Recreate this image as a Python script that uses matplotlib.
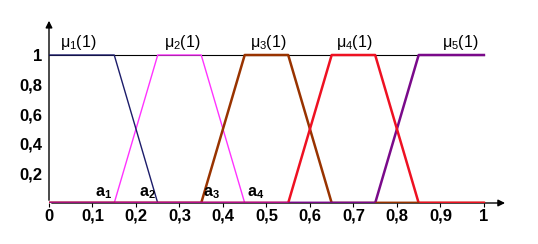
import matplotlib.pyplot as plt

# membership functions mu_1..mu_5 (x breakpoints, y values)
mu1_x = [0, 0.15, 0.25, 1]
mu1_y = [1, 1, 0, 0]
mu2_x = [0, 0.15, 0.25, 0.35, 0.45, 1]
mu2_y = [0, 0, 1, 1, 0, 0]
mu3_x = [0, 0.35, 0.45, 0.55, 0.65, 1]
mu3_y = [0, 0, 1, 1, 0, 0]
mu4_x = [0, 0.55, 0.65, 0.75, 0.85, 1]
mu4_y = [0, 0, 1, 1, 0, 0]
mu5_x = [0, 0.75, 0.85, 1]
mu5_y = [0, 0, 1, 1]

mu_labels = ["$\\mu_1(1)$", "$\\mu_2(1)$", "$\\mu_3(1)$", "$\\mu_4(1)$", "$\\mu_5(1)$"]
mu_label_x = [0.067, 0.306, 0.503, 0.703, 0.945]

a_labels = ["$\\mathbf{a_1}$", "$\\mathbf{a_2}$", "$\\mathbf{a_3}$", "$\\mathbf{a_4}$"]
a_x = [0.15, 0.25, 0.35, 0.45]

xticks = [0, 0.1, 0.2, 0.3, 0.4, 0.5, 0.6, 0.7, 0.8, 0.9, 1]
xticklabels = ["0", "0,1", "0,2", "0,3", "0,4", "0,5", "0,6", "0,7", "0,8", "0,9", "1"]
yticks = [0.2, 0.4, 0.6, 0.8, 1]
yticklabels = ["0,2", "0,4", "0,6", "0,8", "1"]

plt.rcParams["font.family"] = ["Liberation Sans", "DejaVu Sans"]
plt.rcParams["mathtext.fontset"] = "custom"
plt.rcParams["mathtext.rm"] = "Liberation Sans"
plt.rcParams["mathtext.it"] = "Liberation Sans"
plt.rcParams["mathtext.bf"] = "Liberation Sans:bold"

fig = plt.figure(figsize=(5.38, 2.44), dpi=100)
ax = fig.add_axes([49 / 538, 41 / 244, 461 / 538, 185 / 244])
ax.set_xlim(0, 1.06)
ax.set_ylim(0, 1.25)

# thin reference line at 1
ax.plot([0, 1], [1, 1], color="black", lw=0.8, zorder=1)

ax.plot(mu2_x, mu2_y, color="#ff33ff", lw=1.0, zorder=2)
ax.plot(mu1_x, mu1_y, color="#1c1c6a", lw=1.0, zorder=3)
ax.plot(mu3_x, mu3_y, color="#993300", lw=1.8, zorder=3)
ax.plot(mu5_x, mu5_y, color="#7a0a8a", lw=1.8, zorder=3)
ax.plot(mu4_x, mu4_y, color="#ee1122", lw=1.8, zorder=3)
# bottom overlay like the picture
ax.plot([0, 0.15], [0, 0], color="#a0107a", lw=2.5, zorder=4, solid_capstyle="butt")
ax.plot([0.15, 0.55], [0, 0], color="#b0108a", lw=2.5, zorder=4, solid_capstyle="butt")
ax.plot([0.55, 0.75], [0, 0], color="#7a0a8a", lw=2.5, zorder=4, solid_capstyle="butt")
ax.plot([0.75, 0.85], [0, 0], color="#993300", lw=2.5, zorder=4, solid_capstyle="butt")
ax.plot([0.85, 1], [0, 0], color="#ee1122", lw=2.5, zorder=4, solid_capstyle="butt")

for lab, x in zip(mu_labels, mu_label_x):
    ax.text(x, 1.02, lab, ha="center", va="bottom", fontsize=11.5)

for i, (lab, x) in enumerate(zip(a_labels, a_x)):
    if i < 2:
        ax.text(x - 0.005, 0.015, lab, ha="right", va="bottom", fontsize=11.5)
    else:
        ax.text(x + 0.005, 0.015, lab, ha="left", va="bottom", fontsize=11.5)

for s in ax.spines.values():
    s.set_visible(False)

# axes with arrows
ax.annotate("", xy=(1.055, 0), xytext=(0, 0),
            arrowprops=dict(arrowstyle="-|>", color="black", lw=1.0, mutation_scale=10), zorder=0)
ax.annotate("", xy=(0, 1.25), xytext=(0, 0),
            arrowprops=dict(arrowstyle="-|>", color="black", lw=1.0, mutation_scale=10), zorder=0)

ax.set_xticks(xticks)
ax.set_xticklabels(xticklabels, fontsize=12, fontweight="bold")
ax.set_yticks(yticks)
ax.set_yticklabels(yticklabels, fontsize=12, fontweight="bold")
ax.tick_params(axis="x", direction="out", length=3, width=0.8, pad=1)
ax.tick_params(axis="y", length=0, pad=5)

fig.savefig("out.png", dpi=100)
